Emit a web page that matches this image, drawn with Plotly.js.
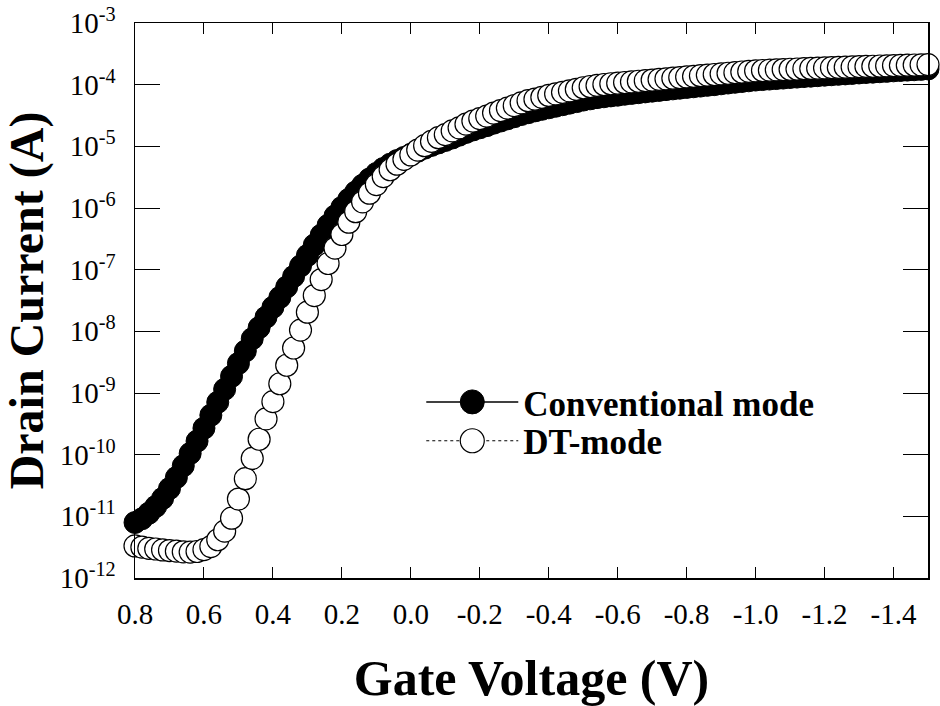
<!DOCTYPE html>
<html>
<head>
<meta charset="utf-8">
<script src="https://cdn.plot.ly/plotly-3.0.1.min.js"></script>
<style>
html, body { margin: 0; padding: 0; background: #ffffff; }
#chart { width: 940px; height: 706px; }
</style>
</head>
<body>
<div id="chart"></div>
<script>
// Gate voltage (V), swept from 0.8 V down to -1.5 V
const gateVoltage = [
  0.80, 0.78, 0.76, 0.74, 0.72, 0.70, 0.68, 0.66, 0.64, 0.62,
  0.60, 0.58, 0.56, 0.54, 0.52, 0.50, 0.48, 0.46, 0.44, 0.42,
  0.40, 0.38, 0.36, 0.34, 0.32, 0.30, 0.28, 0.26, 0.24, 0.22,
  0.20, 0.18, 0.16, 0.14, 0.12, 0.10, 0.08, 0.06, 0.04, 0.02,
  0.00, -0.02, -0.04, -0.06, -0.08, -0.10, -0.12, -0.14, -0.16, -0.18,
  -0.20, -0.22, -0.24, -0.26, -0.28, -0.30, -0.32, -0.34, -0.36, -0.38,
  -0.40, -0.42, -0.44, -0.46, -0.48, -0.50, -0.52, -0.54, -0.56, -0.58,
  -0.60, -0.62, -0.64, -0.66, -0.68, -0.70, -0.72, -0.74, -0.76, -0.78,
  -0.80, -0.82, -0.84, -0.86, -0.88, -0.90, -0.92, -0.94, -0.96, -0.98,
  -1.00, -1.02, -1.04, -1.06, -1.08, -1.10, -1.12, -1.14, -1.16, -1.18,
  -1.20, -1.22, -1.24, -1.26, -1.28, -1.30, -1.32, -1.34, -1.36, -1.38,
  -1.40, -1.42, -1.44, -1.46, -1.48, -1.50
];

// log10 of drain current (A), conventional mode (filled circles)
const conventionalLogCurrent = [
  -11.10, -11.04, -10.95, -10.84, -10.71, -10.55, -10.37, -10.18, -9.98, -9.78,
  -9.57, -9.36, -9.15, -8.94, -8.73, -8.52, -8.32, -8.12, -7.94, -7.77,
  -7.61, -7.45, -7.28, -7.11, -6.94, -6.77, -6.60, -6.44, -6.28, -6.13,
  -5.99, -5.86, -5.74, -5.63, -5.53, -5.44, -5.36, -5.29, -5.23, -5.18,
  -5.13, -5.08, -5.03, -4.985, -4.945, -4.905, -4.865, -4.82, -4.775, -4.735,
  -4.70, -4.665, -4.625, -4.59, -4.555, -4.52, -4.485, -4.455, -4.425, -4.40,
  -4.375, -4.35, -4.325, -4.30, -4.275, -4.25, -4.23, -4.21, -4.196, -4.182,
  -4.17, -4.155, -4.142, -4.13, -4.117, -4.105, -4.093, -4.08, -4.068, -4.057,
  -4.045, -4.034, -4.023, -4.011, -4.00, -3.986, -3.973, -3.961, -3.949, -3.937,
  -3.925, -3.917, -3.909, -3.901, -3.893, -3.884, -3.877, -3.869, -3.862, -3.854,
  -3.846, -3.839, -3.832, -3.825, -3.818, -3.810, -3.803, -3.797, -3.790, -3.784,
  -3.776, -3.770, -3.764, -3.758, -3.752, -3.745
];

// log10 of drain current (A), DT-mode (open circles)
const dtLogCurrent = [
  -11.48, -11.50, -11.52, -11.53, -11.545, -11.555, -11.565, -11.575, -11.58, -11.57,
  -11.54, -11.49, -11.38, -11.24, -11.03, -10.72, -10.39, -10.06, -9.75, -9.42,
  -9.14, -8.85, -8.55, -8.27, -7.98, -7.69, -7.42, -7.16, -6.90, -6.65,
  -6.43, -6.23, -6.06, -5.90, -5.76, -5.62, -5.49, -5.38, -5.29, -5.21,
  -5.14, -5.06, -4.99, -4.92, -4.86, -4.81, -4.75, -4.70, -4.64, -4.59,
  -4.55, -4.51, -4.46, -4.42, -4.38, -4.34, -4.295, -4.26, -4.235, -4.205,
  -4.175, -4.15, -4.125, -4.10, -4.075, -4.05, -4.03, -4.012, -3.997, -3.985,
  -3.975, -3.965, -3.955, -3.945, -3.935, -3.925, -3.915, -3.905, -3.895, -3.885,
  -3.875, -3.865, -3.855, -3.845, -3.835, -3.825, -3.815, -3.805, -3.795, -3.785,
  -3.775, -3.770, -3.765, -3.760, -3.755, -3.750, -3.746, -3.741, -3.737, -3.732,
  -3.728, -3.724, -3.720, -3.716, -3.712, -3.708, -3.704, -3.701, -3.697, -3.694,
  -3.690, -3.687, -3.684, -3.681, -3.678, -3.675
];

const seriesNames = ['Conventional mode', 'DT-mode'];

// Tick labels
const xTickValues = [0.8, 0.6, 0.4, 0.2, 0.0, -0.2, -0.4, -0.6, -0.8, -1.0, -1.2, -1.4];
const xTickLabels = ['0.8', '0.6', '0.4', '0.2', '0.0', '-0.2', '-0.4', '-0.6', '-0.8', '-1.0', '-1.2', '-1.4'];
const xMajorTickValues = [0.0, -1.0];
const yDecadeExponents = [-12, -11, -10, -9, -8, -7, -6, -5, -4, -3];
const yMinorMantissas = [2, 3, 4, 5, 6, 7, 8, 9];

const conventionalCurrent = conventionalLogCurrent.map(v => Math.pow(10, v));
const dtCurrent = dtLogCurrent.map(v => Math.pow(10, v));

const yTickValues = yDecadeExponents.map(e => Math.pow(10, e));
const yTickLabels = yDecadeExponents.map(e => '10<sup>' + String(e) + '</sup>');
const yMinorTickValues = [];
yDecadeExponents.slice(0, -1).forEach(e => {
  yMinorMantissas.forEach(m => yMinorTickValues.push(m * Math.pow(10, e)));
});

const serif = '"Liberation Serif", "Times New Roman", Times, serif';
const legendFont = { family: serif, size: 35, color: 'black', weight: 'bold' };

const traces = [
  {
    x: gateVoltage, y: conventionalCurrent, name: seriesNames[0], legend: 'legend',
    type: 'scatter', mode: 'lines+markers', cliponaxis: false,
    line: { color: 'black', width: 1.5 },
    marker: { symbol: 'circle', size: 22, color: 'black', line: { color: 'black', width: 1 } }
  },
  {
    x: gateVoltage, y: dtCurrent, name: seriesNames[1], legend: 'legend2',
    type: 'scatter', mode: 'lines+markers', cliponaxis: false,
    line: { color: 'black', width: 1, dash: 'dot' },
    marker: { symbol: 'circle', size: 22, color: 'white', line: { color: 'black', width: 1.2 } }
  }
];

const layout = {
  width: 940, height: 706,
  paper_bgcolor: 'white', plot_bgcolor: 'white',
  margin: { l: 135, r: 12, t: 23, b: 128 },
  showlegend: true,
  legend: {
    x: 0.361, y: 0.370, xanchor: 'left', yanchor: 'top',
    bgcolor: 'rgba(0,0,0,0)', borderwidth: 0, itemwidth: 92,
    font: legendFont
  },
  legend2: {
    x: 0.361, y: 0.300, xanchor: 'left', yanchor: 'top',
    bgcolor: 'rgba(0,0,0,0)', borderwidth: 0, itemwidth: 92,
    font: legendFont
  },
  xaxis: {
    range: [0.8, -1.5], tickmode: 'array', tickvals: xTickValues, ticktext: xTickLabels,
    ticks: 'inside', ticklen: 11, tickwidth: 1, tickcolor: 'black',
    showline: true, linecolor: 'black', linewidth: 1.5, mirror: 'allticks',
    showgrid: false, zeroline: false, ticklabelstandoff: 10,
    tickfont: { family: serif, size: 29, color: 'black' },
    title: { text: 'Gate Voltage (V)', standoff: 30,
      font: { family: serif, size: 50, color: 'black', weight: 'bold' } }
  },
  xaxis2: {
    overlaying: 'x', anchor: 'y', side: 'bottom', range: [0.8, -1.5],
    tickmode: 'array', tickvals: xMajorTickValues, showticklabels: false,
    ticks: 'inside', ticklen: 24, tickwidth: 1, tickcolor: 'black',
    showline: false, mirror: 'allticks', showgrid: false, zeroline: false
  },
  yaxis: {
    type: 'log', range: [-12, -3], tickmode: 'array', tickvals: yTickValues, ticktext: yTickLabels,
    ticks: 'inside', ticklen: 25, tickwidth: 1, tickcolor: 'black',
    showline: true, linecolor: 'black', linewidth: 1.5, mirror: 'allticks',
    showgrid: false, zeroline: false, ticklabelstandoff: 12,
    tickfont: { family: serif, size: 29, color: 'black' },
    title: { text: 'Drain Current (A)', standoff: 14,
      font: { family: serif, size: 48, color: 'black', weight: 'bold' } }
  },
  yaxis2: {
    overlaying: 'y', anchor: 'x', side: 'left', type: 'log', range: [-12, -3],
    tickmode: 'array', tickvals: yMinorTickValues, showticklabels: false,
    ticks: 'inside', ticklen: 12, tickwidth: 1, tickcolor: 'black',
    showline: false, mirror: 'allticks', showgrid: false, zeroline: false
  }
};

Plotly.newPlot('chart', traces, layout, { staticPlot: true, displayModeBar: false }).then(gd => {
  // Plotly caps legend symbols at 16 px; enlarge them to match the plotted markers.
  gd.querySelectorAll('g.legendpoints path.scatterpts').forEach(p => {
    p.setAttribute('d', 'M12,0A12,12 0 1,1 0,-12A12,12 0 0,1 12,0Z');
  });
});
</script>
</body>
</html>
